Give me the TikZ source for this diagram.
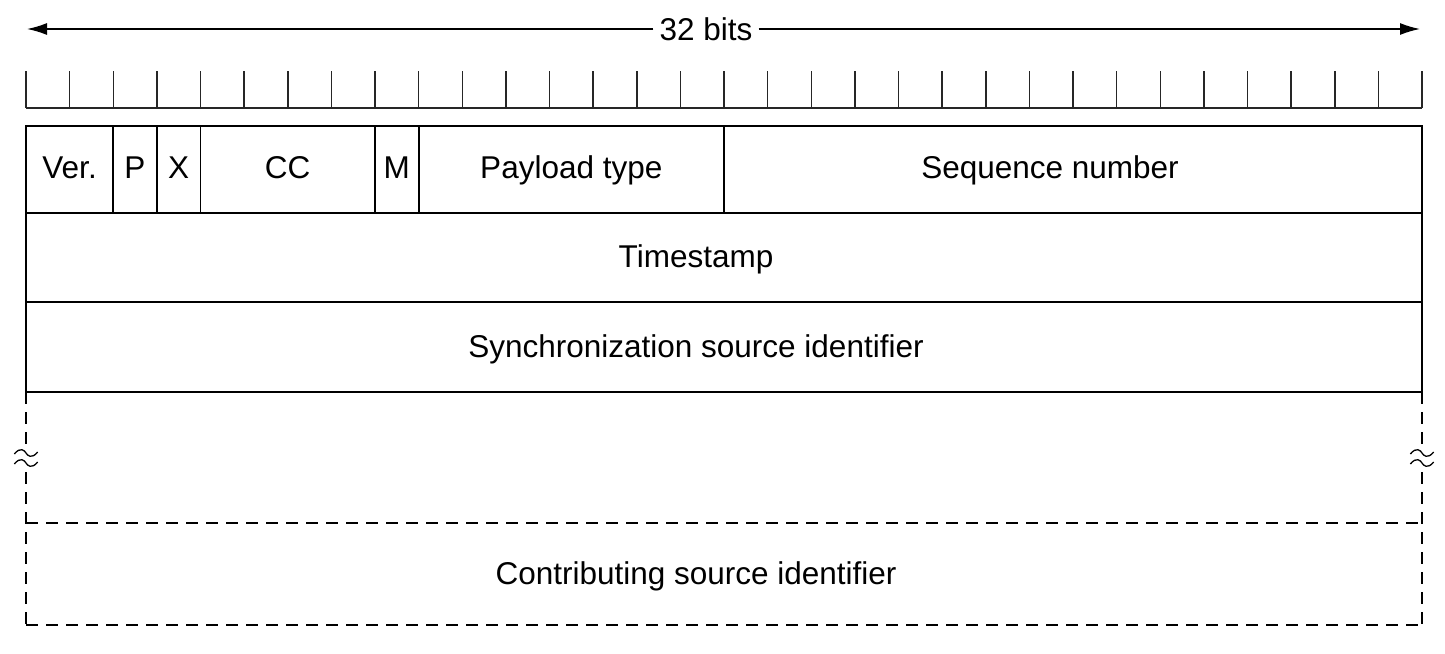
\documentclass[tikz,border=0pt]{standalone}
\usepackage{fontspec}
\setmainfont{Liberation Sans}
\usetikzlibrary{arrows.meta}
\begin{document}
\begin{tikzpicture}[x=1pt,y=-1pt,
  font=\fontsize{31.5}{36}\selectfont,
  solidl/.style={line width=1.8pt},
  dashl/.style={line width=1.8pt, dash pattern=on 12pt off 8pt},
  tickl/.style={line width=1.5pt, black!85},
  arr/.style={line width=1.5pt, -{Latex[length=20pt,width=12pt]}},
  lbl/.style={inner sep=0pt, anchor=base},
  brk/.style={line width=1.3pt}]
\useasboundingbox (0,0) rectangle (1445,653);
% top arrow
\node[lbl, fill=white, inner xsep=6pt, inner ysep=2pt] (bits) at (706,40) {32 bits};
\coordinate (al) at (27,29);
\coordinate (ar) at (1420,29);
\draw[arr] (bits.west |- al) -- (al);
\draw[arr] (bits.east |- ar) -- (ar);
% ruler
\draw[tickl] (26,108) -- (1422,108);
\foreach \i in {0,...,32} {
  \draw[tickl] ({26+43.625*\i},71) -- ({26+43.625*\i},108);
}
% solid box
\draw[solidl] (26,126) rectangle (1422,392);
\draw[solidl] (26,213) -- (1422,213);
\draw[solidl] (26,302) -- (1422,302);
\foreach \x in {113.25,156.875,200.5,375,418.625,724} {
  \draw[solidl] (\x,126) -- (\x,213);
}
% dashed part
\draw[dashl] (26,392) -- (26,625);
\draw[dashl] (1422,392) -- (1422,625);
\draw[dashl] (26,523) -- (1422,523);
\draw[dashl] (26,625) -- (1422,625);
% break marks
\foreach \bx in {26,1422} {
  \fill[white] (\bx-8,448) rectangle (\bx+8,469);
  \foreach \dy in {-5,5} {
    \draw[brk, shift={(\bx,458+\dy)}, rotate=-15] (-11,4) .. controls (-7,-5) and (-2,-2) .. (0,0) .. controls (2,2) and (7,5) .. (11,-4);
  }
}
% labels
\node[lbl] (ver) at (69.6,178) {Ver.};
\node[lbl] (p) at (135,178) {P};
\node[lbl] (xb) at (178.7,178) {X};
\node[lbl] (cc) at (287.7,178) {CC};
\node[lbl] (m) at (396.8,178) {M};
\node[lbl] (pt) at (571.3,178) {Payload type};
\node[lbl] (seq) at (1050,178) {Sequence number};
\node[lbl] (ts) at (696,267) {Timestamp};
\node[lbl] (ssrc) at (696,357) {Synchronization source identifier};
\node[lbl] (csrc) at (696,584) {Contributing source identifier};
\end{tikzpicture}
\end{document}
